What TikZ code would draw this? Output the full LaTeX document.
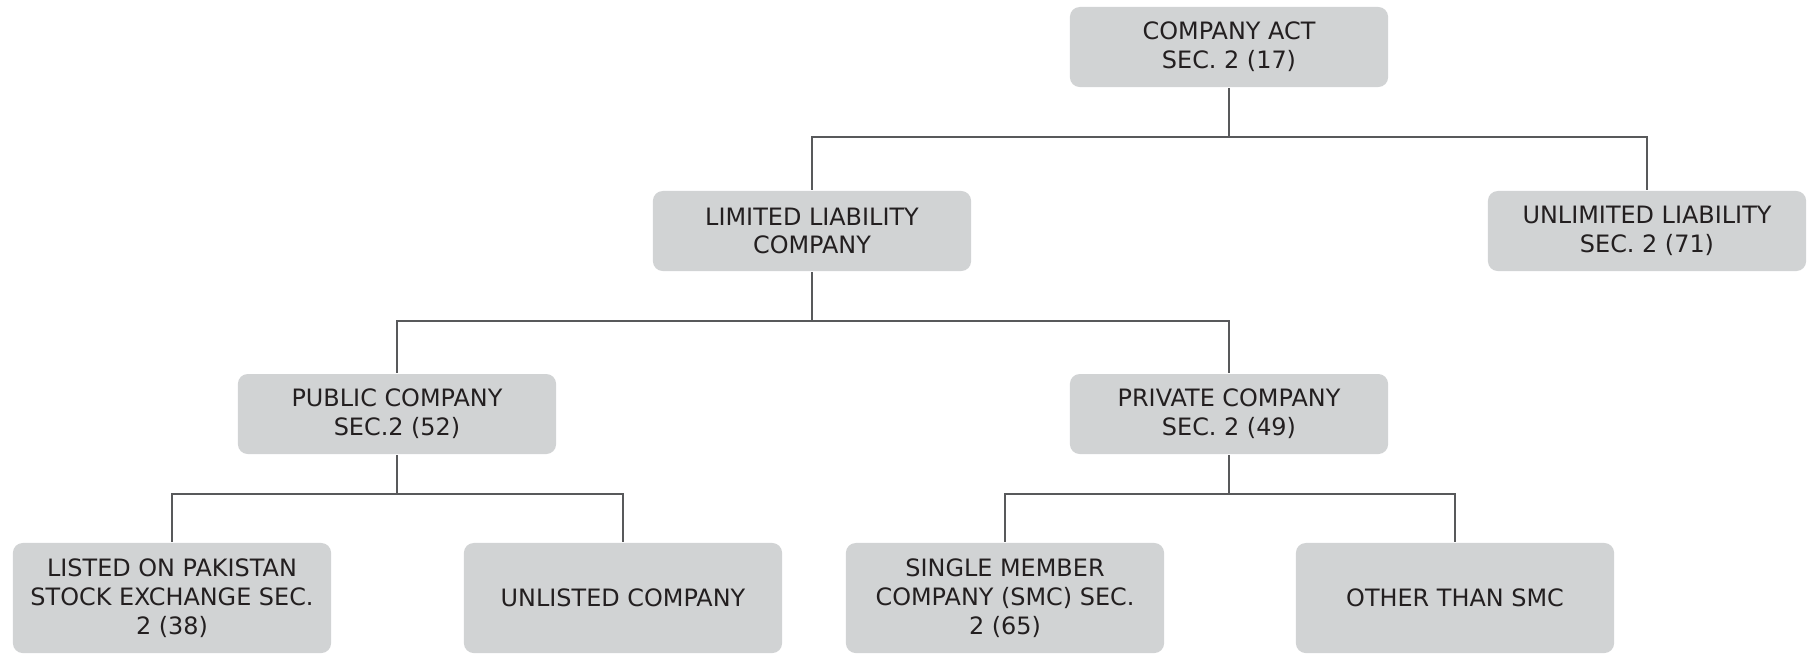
\documentclass[tikz,border=0pt]{standalone}
\usepackage{fontspec}
\setmainfont{DejaVu Sans}
\definecolor{boxgray}{HTML}{D1D3D4}
\definecolor{linegray}{HTML}{58595B}
\definecolor{textgray}{HTML}{231F20}

\begin{document}
\begin{tikzpicture}[x=0.01cm, y=-0.01cm, line width=0.6pt,
  box/.style={fill=boxgray, rounded corners=2.8pt, minimum width=3.18cm,
    minimum height=0.8cm, align=center, inner sep=0pt, text=textgray,
    font=\fontsize{6.8}{8.2}\selectfont},
  tallbox/.style={box, minimum height=1.1cm},
  link/.style={draw=linegray, line width=0.6pt}]

  % Page size
  \useasboundingbox (0,0) rectangle (1813,653);

  % Level 1
  \node[box] (act) at (1229,47) {COMPANY ACT\\SEC. 2 (17)};

  % Level 2
  \node[box] (lim) at (812,231) {LIMITED LIABILITY\\COMPANY};
  \node[box] (unlim) at (1647,231) {UNLIMITED LIABILITY\\SEC. 2 (71)};

  % Level 3
  \node[box] (pub) at (397,414) {PUBLIC COMPANY\\SEC.2 (52)};
  \node[box] (priv) at (1229,414) {PRIVATE COMPANY\\SEC. 2 (49)};

  % Level 4
  \node[tallbox] (listed) at (172,598) {LISTED ON PAKISTAN\\STOCK EXCHANGE SEC.\\2 (38)};
  \node[tallbox] (unlisted) at (623,598) {UNLISTED COMPANY};
  \node[tallbox] (smc) at (1005,598) {SINGLE MEMBER\\COMPANY (SMC) SEC.\\2 (65)};
  \node[tallbox] (other) at (1455,598) {OTHER THAN SMC};

  % Connectors (parent/child/drop to the bar)
  \foreach \p/\c/\d in {act/lim/49, act/unlim/49, lim/pub/49, lim/priv/49,
                        pub/listed/39, pub/unlisted/39, priv/smc/39, priv/other/39} {
    \draw[link] (\p.south) -- ++(0,\d) -| (\c.north);
  }

\end{tikzpicture}
\end{document}
